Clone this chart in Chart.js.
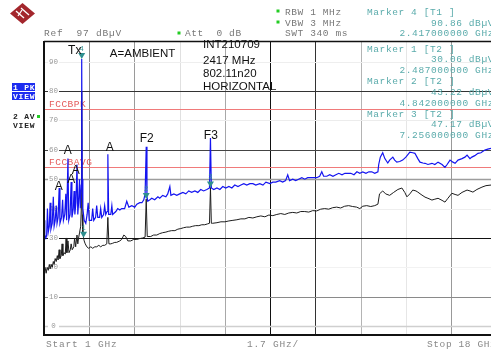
<!DOCTYPE html>
<html>
<head>
<meta charset="utf-8">
<script src="https://cdn.jsdelivr.net/npm/chart.js@4.4.1/dist/chart.umd.min.js"></script>
<style>
  html, body { margin: 0; padding: 0; background: #fff; }
</style>
</head>
<body>
<canvas id="specChart" width="491" height="351"></canvas>
<script>
// trace 1: peak detector (blue), GHz / dBuV
const pkFreq = [
  1.00, 1.03, 1.07, 1.10, 1.13, 1.16, 1.20, 1.23, 1.26, 1.31,
  1.35, 1.38, 1.42, 1.46, 1.49, 1.53, 1.57, 1.60, 1.66, 1.70,
  1.73, 1.78, 1.82, 1.85, 1.90, 1.93, 1.98, 2.02, 2.05, 2.10,
  2.13, 2.16, 2.20, 2.24, 2.27, 2.30, 2.335, 2.365, 2.40, 2.417,
  2.435, 2.46, 2.51, 2.57, 2.62, 2.66, 2.70, 2.79, 2.83, 2.87,
  2.94, 2.98, 3.02, 3.09, 3.13, 3.17, 3.24, 3.28, 3.32, 3.37,
  3.40, 3.43, 3.51, 3.55, 3.58, 3.70, 3.77, 3.85, 3.92, 4.03,
  4.11, 4.19, 4.30, 4.41, 4.49, 4.60, 4.68, 4.75, 4.80, 4.842,
  4.87, 4.90, 4.98, 5.05, 5.16, 5.28, 5.35, 5.46, 5.58, 5.65,
  5.73, 5.77, 5.88, 5.99, 6.10, 6.22, 6.33, 6.44, 6.55, 6.67,
  6.78, 6.89, 7.00, 7.12, 7.22, 7.256, 7.29, 7.38, 7.50, 7.61,
  7.72, 7.83, 7.95, 8.06, 8.17, 8.29, 8.40, 8.51, 8.62, 8.74,
  8.85, 8.96, 9.11, 9.23, 9.34, 9.49, 9.60, 9.71, 9.86, 9.97,
  10.08, 10.16, 10.23, 10.35, 10.46, 10.57, 10.69, 10.80, 10.91, 11.03,
  11.14, 11.25, 11.36, 11.44, 11.51, 11.63, 11.74, 11.86, 11.97, 12.08,
  12.20, 12.31, 12.42, 12.53, 12.65, 12.76, 12.87, 12.98, 13.10, 13.21,
  13.32, 13.43, 13.55, 13.58, 13.64, 13.73, 13.81, 13.92, 13.99, 14.11,
  14.18, 14.26, 14.37, 14.48, 14.60, 14.75, 14.86, 14.94, 15.05, 15.13,
  15.24, 15.32, 15.43, 15.58, 15.69, 15.81, 15.96, 16.07, 16.15, 16.26,
  16.37, 16.45, 16.56, 16.71, 16.82, 16.90, 17.01, 17.08, 17.19, 17.31,
  17.42, 17.57, 17.68, 17.80
];
const pkLevel = [
  36, 31, 30, 31, 40, 32, 34, 42, 33, 35,
  44, 34, 36, 41, 35, 37, 47, 35, 37, 43,
  36, 38, 45, 36, 57, 36, 38, 49, 37, 40,
  46, 38, 42, 55, 38, 42, 50, 40, 48, 90.86,
  50, 40, 36, 35, 38, 42, 36, 36, 40, 36,
  37, 41, 37, 37, 40, 37, 38, 41, 38, 39,
  58.5, 38, 38, 41, 38, 39, 40, 39.5, 40, 40,
  42.5, 40.5, 41, 40.5, 41.5, 42, 42, 43, 45, 61,
  44, 42.5, 43, 43.5, 43, 44, 43.5, 44.5, 44, 45,
  47.5, 44.5, 45, 44.5, 45, 45.5, 45, 46, 45.5, 46,
  45.5, 46.5, 46, 46.5, 47, 64, 47, 46.5, 47, 46.5,
  47.5, 47, 47.5, 47, 48, 47.5, 48, 48.5, 48, 48.5,
  48.5, 48, 48.5, 48, 49, 48.5, 49, 49, 49.5, 49,
  49.5, 51.5, 49.5, 50, 49.5, 50, 50.5, 50, 50.5, 50.5,
  50.5, 50.5, 51, 52.5, 51, 51, 51.5, 51, 51.5, 52,
  51.5, 52, 52, 52, 51.5, 52.5, 52, 52.5, 52, 52.5,
  52.5, 52, 52.5, 55, 57.5, 59, 57, 55.5, 56.5, 57.5,
  56.5, 55.8, 56, 56.5, 57.5, 59.2, 59, 58.8, 57, 55.8,
  55.5, 55.4, 55, 55.4, 55, 55.8, 55, 54, 55, 56.5,
  55.8, 55.4, 56.5, 57, 57.5, 58.2, 57, 57.5, 58, 58.8,
  59, 59.9, 60.2, 60.5
];

// trace 2: average detector (black)
const avFreq = [
  1.00, 1.04, 1.08, 1.12, 1.16, 1.20, 1.23, 1.27, 1.31, 1.35,
  1.38, 1.42, 1.46, 1.50, 1.53, 1.57, 1.60, 1.65, 1.68, 1.71,
  1.76, 1.80, 1.83, 1.86, 1.90, 1.94, 1.99, 2.02, 2.06, 2.12,
  2.15, 2.19, 2.24, 2.27, 2.30, 2.34, 2.38, 2.40, 2.417, 2.435,
  2.46, 2.487, 2.51, 2.55, 2.61, 2.68, 2.76, 2.83, 2.91, 2.98,
  3.06, 3.13, 3.21, 3.28, 3.36, 3.40, 3.44, 3.51, 3.58, 3.66,
  3.73, 3.85, 3.92, 4.00, 4.07, 4.15, 4.26, 4.37, 4.49, 4.60,
  4.71, 4.80, 4.842, 4.88, 5.01, 5.12, 5.24, 5.35, 5.46, 5.58,
  5.69, 5.80, 5.92, 6.03, 6.14, 6.25, 6.36, 6.48, 6.59, 6.70,
  6.82, 6.93, 7.04, 7.15, 7.22, 7.256, 7.29, 7.34, 7.50, 7.65,
  7.80, 7.95, 8.10, 8.25, 8.40, 8.55, 8.70, 8.85, 9.00, 9.15,
  9.30, 9.45, 9.60, 9.75, 9.90, 10.05, 10.20, 10.35, 10.50, 10.65,
  10.80, 10.95, 11.10, 11.25, 11.40, 11.55, 11.70, 11.85, 12.00, 12.15,
  12.30, 12.45, 12.60, 12.75, 12.87, 12.98, 13.13, 13.28, 13.43, 13.55,
  13.61, 13.73, 13.84, 13.99, 14.14, 14.30, 14.45, 14.56, 14.64, 14.75,
  14.86, 14.98, 15.05, 15.17, 15.32, 15.43, 15.58, 15.69, 15.81, 15.96,
  16.07, 16.18, 16.33, 16.45, 16.56, 16.71, 16.90, 17.01, 17.12, 17.27,
  17.46, 17.61, 17.80
];
const avLevel = [
  19, 20, 18, 20, 19, 21, 19.5, 21, 20, 22,
  21, 23, 22, 24, 22.5, 26, 23, 24, 28, 24,
  25, 24.5, 30, 25, 29, 25, 26, 28, 26, 27,
  30, 27, 31, 28, 30, 32, 34, 40, 80, 38,
  32, 30.06, 29, 28, 27, 26.5, 27, 26.5, 27, 27,
  27.5, 27, 27.5, 27.5, 28, 37, 28, 28, 28.2, 28.5,
  28.5, 29, 29.5, 31, 30.5, 29, 29, 29.5, 29.5, 29.8,
  30, 30.3, 43.22, 30.5, 30.5, 31, 31, 31.5, 31.8, 32,
  32.3, 32.5, 32.5, 33, 33.2, 33.5, 33.7, 33.7, 34, 34.2,
  34.2, 34.5, 34.5, 34.8, 35, 47.17, 35, 35, 35.2, 35.5,
  35.5, 35.8, 36, 36.2, 36.5, 36.5, 37, 36.8, 37.2, 37.5,
  37.2, 37.8, 37.6, 38, 38.3, 38, 38.5, 38.7, 38.5, 39,
  39, 38.8, 39.3, 39.2, 39.8, 40, 39.8, 40.3, 40.5, 40.2,
  40.8, 41, 40.7, 40.5, 40, 40.8, 41, 40.7, 41, 41.5,
  45, 46, 45, 44.5, 45.5, 46.5, 47, 45.5, 44, 45,
  46.3, 46, 45.6, 44.8, 43.9, 43.5, 42.9, 43.2, 43.5, 42.8,
  42.2, 43.5, 45.2, 44.8, 44.5, 45.5, 46.3, 46, 45.6, 46.5,
  47.3, 47.8, 48
];

// markers
const markerNo = [4, 1, 2, 3];
const markerTrace = ["T1", "T2", "T2", "T2"];
const markerFreq = [2.417, 2.487, 4.842, 7.256];
const markerLevel = [90.86, 30.06, 43.22, 47.17];

// limit lines
const limitName = ["FCCBPK", "FCCBAVG"];
const limitLevel = [74, 54];

// axis
const freqStart = 1, freqSpan = 1.7, freqShownMax = 17.8;
const gridFreq = [2.7, 4.4, 6.1, 7.8, 9.5, 11.2, 12.9, 14.6, 16.3];
const yTicks = [0, 10, 20, 30, 40, 50, 60, 70, 80, 90];

// peak labels on the plot
const peakLabel = ["Tx", "A", "A", "A", "A", "A", "F2", "F3"];
const peakLabelFreq = [2.155, 1.553, 1.891, 2.023, 2.192, 3.471, 4.862, 7.269];
const peakLabelLevel = [93.6, 47.3, 59.6, 49.7, 52.8, 60.6, 63.7, 64.7];

const noteText = ["A=AMBIENT", "INT210709", "2417 MHz", "802.11n20", "HORIZONTAL"];
const noteFreq = [3.475, 6.977, 6.977, 6.977, 6.977];
const noteLevel = [92.6, 95.6, 90.2, 85.8, 81.4];

// grid shades (the screenshot's dotted lines came out in different greys)
const vGridColor = ["#8c8c8c", "#9a9a9a", "#e0e0e0", "#a8a8a8", "#111", "#333", "#b4b4b4", "#e6e6e6", "#999"];
const hGridColor = { 0: "#cfcfcf", 10: "#8a8a8a", 20: "#f2f2f2", 30: "#111", 40: "#eeeeee",
                     50: "#9d9d9d", 60: "#444", 70: "#ececec", 80: "#333", 90: "#eeeeee" };

const MONO = '"Liberation Mono", "DejaVu Sans Mono", monospace';
const SANS = '"Liberation Sans", Arial, sans-serif';
const TEAL = "#5aabab";

function txt(ctx, s, x, y, font, color, align, spacing) {
    ctx.font = font;
    ctx.fillStyle = color;
    ctx.textAlign = align || "left";
    ctx.textBaseline = "middle";
    ctx.letterSpacing = spacing || "0px";
    ctx.fillText(s, x, y);
    ctx.letterSpacing = "0px";
}

function seg(ctx, x1, y1, x2, y2) {
    ctx.beginPath();
    ctx.moveTo(x1, y1);
    ctx.lineTo(x2, y2);
    ctx.stroke();
}

const decor = {
    id: "decor",
    beforeDatasetsDraw(chart) {
        const { ctx, chartArea: a, scales: { x, y } } = chart;
        ctx.save();
        ctx.lineWidth = 1;
        gridFreq.forEach((f, i) => {
            const px = Math.round(x.getPixelForValue(f)) + 0.5;
            ctx.strokeStyle = vGridColor[i];
            seg(ctx, px, a.top, px, a.bottom);
        });
        yTicks.forEach(v => {
            const py = Math.round(y.getPixelForValue(v)) + 0.5;
            ctx.strokeStyle = hGridColor[v];
            ctx.lineWidth = (v === 0 || v === 50) ? 1.6 : 1;
            seg(ctx, a.left, py, a.right, py);
        });
        // limit lines
        ctx.lineWidth = 1;
        limitLevel.forEach((v, i) => {
            const py = Math.round(y.getPixelForValue(v)) + 0.5;
            ctx.strokeStyle = "#f07a7a";
            seg(ctx, a.left, py, a.right, py);
            txt(ctx, limitName[i], a.left + 5, py - 5, "9.5px " + MONO, "#e45a5a", "left", "0.5px");
        });
        // y tick labels sit inside the plot
        yTicks.forEach(v => {
            const py = y.getPixelForValue(v);
            ctx.fillStyle = "#fff";
            ctx.fillRect(a.left + 4, py - 3.5, 11, 7);
            txt(ctx, String(v), a.left + 9.5, py, "7.5px " + MONO, "#999", "center");
        });
        ctx.restore();
    },
    afterDatasetsDraw(chart) {
        const { ctx, chartArea: a, scales: { x, y } } = chart;
        ctx.save();
        // frame
        ctx.strokeStyle = "#111";
        ctx.lineWidth = 1.5;
        seg(ctx, a.left, a.top + 0.5, a.right, a.top + 0.5);
        ctx.lineWidth = 2;
        seg(ctx, a.left, a.top, a.left, a.bottom + 1);
        seg(ctx, a.left, a.bottom, a.right, a.bottom);

        // markers
        markerFreq.forEach((f, i) => {
            const px = x.getPixelForValue(f);
            const py = y.getPixelForValue(markerLevel[i]);
            ctx.fillStyle = "#2f8f8f";
            ctx.beginPath();
            ctx.moveTo(px - 3.5, py - 6);
            ctx.lineTo(px + 3.5, py - 6);
            ctx.lineTo(px, py);
            ctx.closePath();
            ctx.fill();
            txt(ctx, String(markerNo[i]), px, py - 10, "7px " + MONO, "#2f8f8f", "center");
        });

        // labels
        peakLabel.forEach((s, i) => {
            txt(ctx, s, x.getPixelForValue(peakLabelFreq[i]), y.getPixelForValue(peakLabelLevel[i]),
                "12px " + SANS, "#111", "center");
        });
        noteText.forEach((s, i) => {
            txt(ctx, s, x.getPixelForValue(noteFreq[i]), y.getPixelForValue(noteLevel[i]),
                "11.5px " + SANS, "#111", "left");
        });

        // marker table inside the plot
        const fm = "9.5px " + MONO;
        for (let i = 1; i < markerNo.length; i++) {
            const y0 = 49 + (i - 1) * 32.5;
            txt(ctx, "Marker " + markerNo[i] + " [" + markerTrace[i] + " ]", 367, y0, fm, TEAL, "left", "0.6px");
            txt(ctx, markerLevel[i].toFixed(2) + " dB\u00b5V", 494, y0 + 10.5, fm, TEAL, "right", "0.6px");
            txt(ctx, markerFreq[i].toFixed(9) + " GHz", 494, y0 + 21.5, fm, TEAL, "right", "0.6px");
        }
        ctx.restore();
    },
    afterDraw(chart) {
        const { ctx, chartArea: a } = chart;
        ctx.save();
        const fh = "9.5px " + MONO;
        const grey = "#777";
        // header
        txt(ctx, "Ref  97 dB\u00b5V", a.left, 33.5, fh, grey, "left", "0.8px");
        txt(ctx, "Att  0 dB", 185, 33.5, fh, grey, "left", "0.6px");
        txt(ctx, "RBW 1 MHz", 285, 12, fh, grey, "left", "0.6px");
        txt(ctx, "VBW 3 MHz", 285, 23, fh, grey, "left", "0.6px");
        txt(ctx, "SWT 340 ms", 285, 33.5, fh, grey, "left", "0.6px");
        ctx.fillStyle = "#22cc22";
        [[179, 33], [278, 11], [278, 22]].forEach(p => ctx.fillRect(p[0] - 1.5, p[1] - 1.5, 3, 3));
        txt(ctx, "Marker " + markerNo[0] + " [" + markerTrace[0] + " ]", 367, 12, fh, TEAL, "left", "0.6px");
        txt(ctx, markerLevel[0].toFixed(2) + " dB\u00b5V", 494, 23, fh, TEAL, "right", "0.6px");
        txt(ctx, markerFreq[0].toFixed(9) + " GHz", 494, 33.5, fh, TEAL, "right", "0.6px");

        // footer
        txt(ctx, "Start " + freqStart + " GHz", a.left + 2, 344, fh, "#888", "left", "0.8px");
        txt(ctx, freqSpan + " GHz/", 247, 344, fh, "#888", "left", "0.8px");
        txt(ctx, "Stop 18 GHz", 427, 344, fh, "#888", "left", "0.6px");

        // trace legend on the left
        ctx.fillStyle = "#1c2cf0";
        ctx.fillRect(12, 83, 23, 8);
        ctx.fillRect(12, 92, 23, 8);
        txt(ctx, "1 PK", 13, 87.5, "bold 8px " + MONO, "#fff", "left", "0.8px");
        txt(ctx, "VIEW", 13, 96.5, "bold 8px " + MONO, "#fff", "left", "0.8px");
        txt(ctx, "2 AV", 13, 116.5, "bold 8px " + MONO, "#222", "left", "0.8px");
        txt(ctx, "VIEW", 13, 126, "bold 8px " + MONO, "#222", "left", "0.8px");
        ctx.fillStyle = "#22cc22";
        ctx.fillRect(37, 115, 3, 3);

        // R&S logo
        ctx.fillStyle = "#a3262c";
        ctx.beginPath();
        ctx.moveTo(22.5, 3); ctx.lineTo(35, 13.5); ctx.lineTo(22.5, 24); ctx.lineTo(10, 13.5);
        ctx.closePath();
        ctx.fill();
        ctx.strokeStyle = "#fff";
        ctx.lineWidth = 1.3;
        seg(ctx, 16, 11, 24, 18);
        seg(ctx, 21, 8, 29, 15);
        seg(ctx, 18, 16, 22, 10);
        ctx.restore();
    }
};

new Chart(document.getElementById("specChart"), {
    type: "line",
    data: {
        datasets: [{
            label: "1 PK VIEW",
            data: pkFreq.map((f, i) => ({ x: f, y: pkLevel[i] })),
            borderColor: "#1414f0",
            borderWidth: 1.2,
            pointRadius: 0,
            tension: 0,
            order: 0
        }, {
            label: "2 AV VIEW",
            data: avFreq.map((f, i) => ({ x: f, y: avLevel[i] })),
            borderColor: "#1c1c1c",
            borderWidth: 1,
            pointRadius: 0,
            tension: 0,
            order: 1
        }]
    },
    options: {
        responsive: false,
        animation: false,
        devicePixelRatio: 1,
        events: [],
        layout: { padding: { left: 44, top: 41, right: 0, bottom: 16 } },
        scales: {
            x: { type: "linear", min: freqStart, max: freqShownMax, display: false },
            y: { min: -3, max: 97, display: false }
        },
        plugins: {
            legend: { display: false },
            tooltip: { enabled: false }
        }
    },
    plugins: [decor]
});
</script>
</body>
</html>
